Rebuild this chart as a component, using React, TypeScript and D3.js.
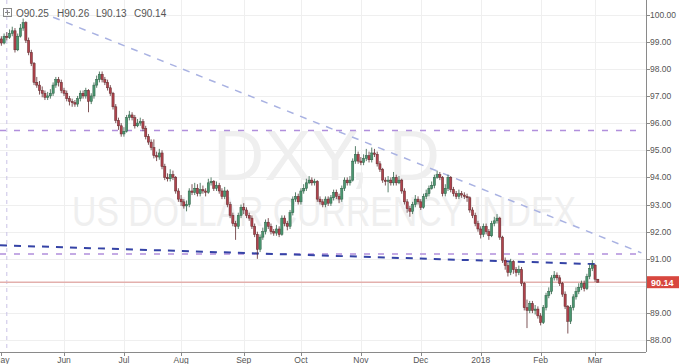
import React, { useEffect, useRef } from 'react';
import * as d3 from 'd3';

// daily DXY bars (27 Apr 2017 .. 2 Mar 2018)
const opens = [
  98.95, 99.05, 99.1, 98.95, 99.2, 99.15, 99.3, 99.4, 98.7, 99.2,
  99.5, 99.7, 99.05, 98.6, 98.2, 97.5, 97.4, 97.2, 97.1, 96.95,
  97.0, 97.1, 97.4, 97.6, 97.5, 97.2, 97.1, 96.9, 96.8, 96.75,
  96.7, 96.9, 97.1, 97.0, 97.2, 96.8, 97.0, 97.4, 97.6, 97.8,
  97.6, 97.5, 97.3, 97.1, 96.6, 96.1, 95.9, 95.6, 95.7, 96.2,
  96.3, 96.2, 95.9, 96.0, 96.05, 95.8, 95.5, 95.3, 95.1, 94.8,
  94.75, 94.9, 94.4, 94.0, 93.95, 94.1, 94.0, 93.5, 93.2, 93.1,
  92.95, 93.0, 93.5, 93.45, 93.6, 93.4, 93.55, 93.5, 93.45, 93.8,
  93.85, 93.6, 93.7, 93.5, 93.3, 93.5, 93.0, 92.6, 92.3, 92.2,
  92.6, 92.9, 92.8, 92.6, 92.5, 92.2, 91.9, 91.35, 91.8, 92.0,
  92.35, 92.2, 92.0, 91.95, 92.1, 91.9, 92.5, 92.3, 92.2, 92.7,
  93.2, 93.3, 93.1, 93.5, 93.6, 93.8, 93.9, 93.8, 93.85, 93.2,
  93.1, 93.0, 93.2, 93.05, 93.25, 93.45, 93.3, 93.2, 93.6, 93.9,
  93.8, 93.9, 94.6, 94.85, 94.6, 94.55, 94.7, 94.8, 94.65, 94.9,
  94.85, 94.5, 94.3, 93.9, 93.85, 93.9, 93.8, 94.0, 93.8, 93.9,
  93.5, 93.1, 92.85, 92.75, 93.0, 93.2, 93.1, 92.9, 93.3, 93.4,
  93.6, 93.7, 94.0, 94.1, 94.0, 93.4, 93.6, 94.0, 93.55, 93.4,
  93.3, 93.4, 93.35, 93.3, 93.25, 92.8, 92.6, 92.3, 92.1, 91.9,
  92.2, 92.0, 91.85, 92.3, 92.4, 92.5, 91.8, 90.95, 90.75, 90.5,
  90.9, 90.6, 90.5, 90.6, 90.1, 89.2, 89.1, 89.35, 89.1, 89.15,
  88.9, 88.65, 89.2, 89.65, 89.8, 90.3, 90.4, 90.3, 90.1, 89.7,
  89.25, 88.7, 89.2, 89.6, 89.8, 89.95, 90.1, 89.9, 90.35, 90.65,
  90.77, 90.25,
];

const highs = [
  99.2, 99.25, 99.2, 99.3, 99.35, 99.45, 99.55, 99.5, 99.3, 99.65,
  99.85, 99.75, 99.15, 98.7, 98.25, 97.7, 97.55, 97.35, 97.2, 97.15,
  97.25, 97.5, 97.7, 97.7, 97.6, 97.3, 97.2, 97.0, 96.9, 96.85,
  97.0, 97.2, 97.2, 97.3, 97.25, 97.1, 97.5, 97.75, 97.9, 97.9,
  97.7, 97.6, 97.4, 97.15, 96.7, 96.2, 96.0, 95.85, 96.3, 96.45,
  96.4, 96.3, 96.15, 96.2, 96.15, 95.9, 95.6, 95.4, 95.4, 94.95,
  95.05, 95.0, 94.5, 94.15, 94.3, 94.25, 94.05, 93.6, 93.35, 93.2,
  93.15, 93.6, 93.75, 93.8, 93.75, 93.8, 93.7, 93.6, 93.95, 94.0,
  93.9, 93.85, 93.8, 93.6, 93.65, 93.55, 93.1, 92.7, 92.4, 92.7,
  93.0, 93.05, 92.9, 92.7, 92.6, 92.3, 92.0, 91.9, 92.15, 92.45,
  92.5, 92.3, 92.1, 92.25, 92.2, 92.6, 92.6, 92.4, 92.8, 93.3,
  93.45, 93.4, 93.6, 93.75, 93.95, 94.05, 94.0, 93.95, 93.9, 93.3,
  93.2, 93.3, 93.3, 93.35, 93.55, 93.55, 93.4, 93.7, 94.0, 94.0,
  94.05, 94.7, 95.15, 94.95, 94.75, 94.85, 95.05, 94.95, 95.1, 95.05,
  94.95, 94.6, 94.35, 94.0, 94.05, 94.0, 94.2, 94.1, 94.05, 93.95,
  93.6, 93.2, 92.95, 93.1, 93.35, 93.3, 93.2, 93.4, 93.55, 93.7,
  93.85, 94.1, 94.25, 94.2, 94.05, 93.75, 94.1, 94.05, 93.65, 93.5,
  93.55, 93.5, 93.45, 93.4, 93.3, 92.9, 92.7, 92.4, 92.2, 92.3,
  92.3, 92.1, 92.4, 92.55, 92.65, 92.55, 91.85, 91.05, 90.85, 91.0,
  90.95, 90.7, 90.75, 90.7, 90.15, 89.5, 89.45, 89.45, 89.3, 89.25,
  89.0, 89.3, 89.75, 89.95, 90.4, 90.55, 90.5, 90.4, 90.15, 89.8,
  89.3, 89.3, 89.7, 89.95, 90.1, 90.2, 90.2, 90.45, 90.8, 90.95,
  90.8, 90.26,
];

const lows = [
  98.85, 98.95, 98.85, 98.9, 99.05, 99.1, 99.2, 98.6, 98.65, 99.15,
  99.4, 98.95, 98.5, 98.1, 97.4, 97.3, 97.05, 96.95, 96.85, 96.85,
  96.9, 97.0, 97.3, 97.35, 97.1, 97.0, 96.8, 96.65, 96.6, 96.6,
  96.6, 96.8, 96.9, 96.9, 96.4, 96.7, 96.9, 97.3, 97.5, 97.5,
  97.4, 97.2, 97.0, 96.5, 96.0, 95.75, 95.5, 95.5, 95.65, 96.1,
  96.1, 95.8, 95.85, 95.9, 95.7, 95.4, 95.2, 95.0, 94.7, 94.6,
  94.65, 94.3, 93.9, 93.85, 93.85, 93.9, 93.4, 93.1, 92.95, 92.85,
  92.75, 92.9, 93.35, 93.35, 93.3, 93.3, 93.4, 93.3, 93.4, 93.7,
  93.5, 93.5, 93.4, 93.2, 93.2, 92.9, 92.5, 92.2, 91.7, 92.1,
  92.5, 92.65, 92.5, 92.4, 92.1, 91.8, 91.0, 91.25, 91.7, 91.9,
  92.1, 91.9, 91.85, 91.85, 91.8, 91.85, 92.2, 92.05, 92.1, 92.6,
  93.1, 93.0, 93.0, 93.4, 93.5, 93.75, 93.7, 93.7, 93.1, 93.0,
  92.9, 92.9, 92.95, 92.95, 93.15, 93.2, 93.05, 93.1, 93.5, 93.7,
  93.7, 93.85, 94.5, 94.5, 94.45, 94.45, 94.6, 94.55, 94.55, 94.75,
  94.4, 94.2, 93.8, 93.7, 93.45, 93.7, 93.7, 93.7, 93.75, 93.4,
  93.0, 92.7, 92.55, 92.65, 92.9, 93.0, 92.8, 92.85, 93.2, 93.3,
  93.55, 93.6, 93.95, 93.9, 93.3, 93.3, 93.5, 93.45, 93.3, 93.2,
  93.2, 93.25, 93.2, 93.1, 92.7, 92.5, 92.2, 92.0, 91.75, 91.8,
  91.9, 91.7, 91.8, 92.2, 92.3, 91.7, 90.85, 90.6, 90.35, 90.4,
  90.45, 90.35, 90.4, 90.0, 89.1, 88.45, 89.0, 89.0, 88.95, 88.8,
  88.55, 88.6, 89.1, 89.55, 89.7, 90.2, 90.2, 90.0, 89.6, 89.15,
  88.25, 88.6, 89.1, 89.5, 89.7, 89.85, 89.8, 89.85, 90.25, 90.55,
  90.15, 90.13,
];

const closes = [
  99.05, 99.1, 98.95, 99.2, 99.15, 99.3, 99.4, 98.7, 99.2, 99.5,
  99.7, 99.05, 98.6, 98.2, 97.5, 97.4, 97.2, 97.1, 96.95, 97.0,
  97.1, 97.4, 97.6, 97.5, 97.2, 97.1, 96.9, 96.8, 96.75, 96.7,
  96.9, 97.1, 97.0, 97.2, 96.8, 97.0, 97.4, 97.6, 97.8, 97.6,
  97.5, 97.3, 97.1, 96.6, 96.1, 95.9, 95.6, 95.7, 96.2, 96.3,
  96.2, 95.9, 96.0, 96.05, 95.8, 95.5, 95.3, 95.1, 94.8, 94.75,
  94.9, 94.4, 94.0, 93.95, 94.1, 94.0, 93.5, 93.2, 93.1, 92.95,
  93.0, 93.5, 93.45, 93.6, 93.4, 93.55, 93.5, 93.45, 93.8, 93.85,
  93.6, 93.7, 93.5, 93.3, 93.5, 93.0, 92.6, 92.3, 92.2, 92.6,
  92.9, 92.8, 92.6, 92.5, 92.2, 91.9, 91.35, 91.8, 92.0, 92.35,
  92.2, 92.0, 91.95, 92.1, 91.9, 92.5, 92.3, 92.2, 92.7, 93.2,
  93.3, 93.1, 93.5, 93.6, 93.8, 93.9, 93.8, 93.85, 93.2, 93.1,
  93.0, 93.2, 93.05, 93.25, 93.45, 93.3, 93.2, 93.6, 93.9, 93.8,
  93.9, 94.6, 94.85, 94.6, 94.55, 94.7, 94.8, 94.65, 94.9, 94.85,
  94.5, 94.3, 93.9, 93.85, 93.9, 93.8, 94.0, 93.8, 93.9, 93.5,
  93.1, 92.85, 92.75, 93.0, 93.2, 93.1, 92.9, 93.3, 93.4, 93.6,
  93.7, 94.0, 94.1, 94.0, 93.4, 93.6, 94.0, 93.55, 93.4, 93.3,
  93.4, 93.35, 93.3, 93.25, 92.8, 92.6, 92.3, 92.1, 91.9, 92.2,
  92.0, 91.85, 92.3, 92.4, 92.5, 91.8, 90.95, 90.75, 90.5, 90.9,
  90.6, 90.5, 90.6, 90.1, 89.2, 89.1, 89.35, 89.1, 89.15, 88.9,
  88.65, 89.2, 89.65, 89.8, 90.3, 90.4, 90.3, 90.1, 89.7, 89.25,
  88.7, 89.2, 89.6, 89.8, 89.95, 90.1, 89.9, 90.35, 90.65, 90.77,
  90.25, 90.14,
];

const firstBar = '2017-04-27';
const monthStarts = [
  '2017-05-01', '2017-06-01', '2017-07-03', '2017-08-01', '2017-09-01', '2017-10-02',
  '2017-11-01', '2017-12-01', '2018-01-02', '2018-02-01', '2018-03-01',
];
const monthLabels = ['May', 'Jun', 'Jul', 'Aug', 'Sep', 'Oct', 'Nov', 'Dec', '2018', 'Feb', 'Mar'];
const priceTicks = [88, 89, 90, 91, 92, 93, 94, 95, 96, 97, 98, 99, 100];

// drawings: horizontal levels and trend lines as [bar, price]
const levels = [95.73, 91.18];
const fallingTrend = [[21, 99.9], [237, 91.22]];
const supportTrend = [[1.5, 91.5], [222, 90.8]];
const markerBar = 4;
const lastPrice = 90.14;

export default function App() {
  const ref = useRef<SVGSVGElement>(null);

  useEffect(() => {
    const width = 679;
    const height = 364;
    const plotRight = 646;
    const plotBottom = 352;

    const svg = d3.select(ref.current);
    svg.selectAll('*').remove();

    const parse = d3.timeParse('%Y-%m-%d');
    const dates: Date[] = [];
    const day = parse(firstBar) as Date;
    while (dates.length < closes.length) {
      if (day.getDay() !== 0 && day.getDay() !== 6) dates.push(new Date(day));
      day.setDate(day.getDate() + 1);
    }

    const x = d3.scaleLinear().domain([1.5, 238.7]).range([0, plotRight]);
    const y = d3.scaleLinear().domain([88, 100]).range([340.3, 14.5]);

    const font = '"Liberation Sans", Arial, sans-serif';

    svg
      .append('defs')
      .append('clipPath')
      .attr('id', 'plot')
      .append('rect')
      .attr('width', plotRight)
      .attr('height', plotBottom);

    const plot = svg.append('g').attr('clip-path', 'url(#plot)');

    // grid
    plot
      .selectAll('.hgrid')
      .data(priceTicks)
      .enter()
      .append('line')
      .attr('x1', 0)
      .attr('x2', plotRight)
      .attr('y1', (d) => Math.round(y(d)) + 0.5)
      .attr('y2', (d) => Math.round(y(d)) + 0.5)
      .attr('stroke', '#efefef');

    const monthIdx = monthStarts.map((m) => {
      const t = parse(m) as Date;
      return dates.findIndex((d) => d >= t);
    });

    plot
      .selectAll('.vgrid')
      .data(monthIdx.slice(1))
      .enter()
      .append('line')
      .attr('x1', (d) => Math.round(x(d)) + 0.5)
      .attr('x2', (d) => Math.round(x(d)) + 0.5)
      .attr('y1', 0)
      .attr('y2', plotBottom)
      .attr('stroke', '#efefef');

    // watermark
    plot
      .append('text')
      .attr('x', 213)
      .attr('y', 180)
      .attr('textLength', 227)
      .attr('lengthAdjust', 'spacingAndGlyphs')
      .attr('font-family', font)
      .attr('font-size', 70)
      .attr('fill', '#efefef')
      .text('DXY, D');

    plot
      .append('text')
      .attr('x', 72)
      .attr('y', 226)
      .attr('textLength', 504)
      .attr('lengthAdjust', 'spacingAndGlyphs')
      .attr('font-family', font)
      .attr('font-size', 43)
      .attr('fill', '#efefef')
      .text('US DOLLAR CURRENCY INDEX');

    // vertical marker
    plot
      .append('line')
      .attr('x1', x(markerBar))
      .attr('x2', x(markerBar))
      .attr('y1', 0)
      .attr('y2', plotBottom)
      .attr('stroke', '#c9c2e6')
      .attr('stroke-dasharray', '4 4');

    // last price line
    plot
      .append('line')
      .attr('x1', 0)
      .attr('x2', plotRight)
      .attr('y1', y(lastPrice))
      .attr('y2', y(lastPrice))
      .attr('stroke', '#e3b0ad')
      .attr('stroke-width', 1.5);

    plot
      .selectAll('.level')
      .data(levels)
      .enter()
      .append('line')
      .attr('x1', 0)
      .attr('x2', 640)
      .attr('y1', (d) => y(d))
      .attr('y2', (d) => y(d))
      .attr('stroke', '#b18fdc')
      .attr('stroke-width', 1.5)
      .attr('stroke-dasharray', '6 8');

    plot
      .append('line')
      .attr('x1', x(fallingTrend[0][0]))
      .attr('y1', y(fallingTrend[0][1]))
      .attr('x2', x(fallingTrend[1][0]))
      .attr('y2', y(fallingTrend[1][1]))
      .attr('stroke', '#a9b2e2')
      .attr('stroke-width', 1.5)
      .attr('stroke-dasharray', '7 7');

    plot
      .append('line')
      .attr('x1', x(supportTrend[0][0]))
      .attr('y1', y(supportTrend[0][1]))
      .attr('x2', x(supportTrend[1][0]))
      .attr('y2', y(supportTrend[1][1]))
      .attr('stroke', '#3543a6')
      .attr('stroke-width', 2)
      .attr('stroke-dasharray', '7 7');

    // candles
    const bars = closes.map((c, i) => ({ i, o: opens[i], h: highs[i], l: lows[i], c }));
    const candle = plot
      .selectAll('.candle')
      .data(bars)
      .enter()
      .append('g');

    candle
      .append('line')
      .attr('x1', (d) => x(d.i))
      .attr('x2', (d) => x(d.i))
      .attr('y1', (d) => y(d.h))
      .attr('y2', (d) => y(d.l))
      .attr('stroke', (d) => (d.c >= d.o ? '#2f5f45' : '#5e2a2d'))
      .attr('stroke-width', 0.8);

    candle
      .append('rect')
      .attr('x', (d) => x(d.i) - 1.1)
      .attr('width', 2.2)
      .attr('y', (d) => y(Math.max(d.o, d.c)))
      .attr('height', (d) => Math.max(1, Math.abs(y(d.o) - y(d.c))))
      .attr('fill', (d) => (d.c >= d.o ? '#4a9670' : '#b0424c'))
      .attr('stroke', (d) => (d.c >= d.o ? '#2f5f45' : '#5e2a2d'))
      .attr('stroke-width', 0.5);

    // axes
    svg
      .append('line')
      .attr('x1', plotRight + 0.5)
      .attr('x2', plotRight + 0.5)
      .attr('y1', 0)
      .attr('y2', plotBottom)
      .attr('stroke', '#8a8a8a');

    svg
      .append('line')
      .attr('x1', 0)
      .attr('x2', plotRight)
      .attr('y1', plotBottom + 0.5)
      .attr('y2', plotBottom + 0.5)
      .attr('stroke', '#8a8a8a');

    // the 90.00 label sits under the last-price tag, as on the original
    const shownTicks = priceTicks.filter((d) => Math.abs(y(d) - y(lastPrice)) > 8);
    const yTicks = svg.selectAll('.ytick').data(shownTicks).enter().append('g');
    yTicks
      .append('line')
      .attr('x1', plotRight)
      .attr('x2', plotRight + 4)
      .attr('y1', (d) => Math.round(y(d)) + 0.5)
      .attr('y2', (d) => Math.round(y(d)) + 0.5)
      .attr('stroke', '#8a8a8a');
    yTicks
      .append('text')
      .attr('x', plotRight + 4)
      .attr('y', (d) => y(d) + 3)
      .attr('font-family', font)
      .attr('font-size', 8.5)
      .attr('fill', '#555')
      .text((d) => d.toFixed(2));

    const xTicks = svg
      .selectAll('.xtick')
      .data(monthIdx)
      .enter()
      .append('g');
    xTicks
      .append('line')
      .attr('x1', (d) => Math.round(x(d)) + 0.5)
      .attr('x2', (d) => Math.round(x(d)) + 0.5)
      .attr('y1', plotBottom)
      .attr('y2', plotBottom + 4)
      .attr('stroke', '#8a8a8a');
    xTicks
      .append('text')
      .attr('x', (d) => x(d))
      .attr('y', 363)
      .attr('text-anchor', 'middle')
      .attr('font-family', font)
      .attr('font-size', 8.5)
      .attr('fill', '#555')
      .text((_, i) => monthLabels[i]);

    // last price tag
    svg
      .append('rect')
      .attr('x', plotRight + 1)
      .attr('y', y(lastPrice) - 6)
      .attr('width', width - plotRight - 1)
      .attr('height', 12)
      .attr('fill', '#d8473f');
    svg
      .append('text')
      .attr('x', plotRight + 5)
      .attr('y', y(lastPrice) + 3.5)
      .attr('font-family', font)
      .attr('font-size', 9)
      .attr('font-weight', 'bold')
      .attr('fill', '#fff')
      .text(lastPrice.toFixed(2));

    // OHLC legend
    const last = bars[bars.length - 1];
    const legend = svg.append('g').attr('font-family', font).attr('font-size', 10).attr('fill', '#555');
    legend
      .append('rect')
      .attr('x', 3.5)
      .attr('y', 8.5)
      .attr('width', 8)
      .attr('height', 8)
      .attr('fill', 'none')
      .attr('stroke', '#888');
    legend.append('path').attr('d', 'M7.5,10V15M5,12.5H10').attr('stroke', '#888');
    const items = [
      ['O', last.o],
      ['H', last.h],
      ['L', last.l],
      ['C', last.c],
    ];
    const legendX = [16, 57, 96, 134];
    items.forEach(([k, v], i) => {
      legend
        .append('text')
        .attr('x', legendX[i])
        .attr('y', 17)
        .text(`${k}${(v as number).toFixed(2)}`);
    });

    svg.attr('width', width).attr('height', height);
  }, []);

  return (
    <svg
      ref={ref}
      width={679}
      height={364}
      style={{ position: 'absolute', left: 0, top: 0, background: '#fff' }}
    />
  );
}
